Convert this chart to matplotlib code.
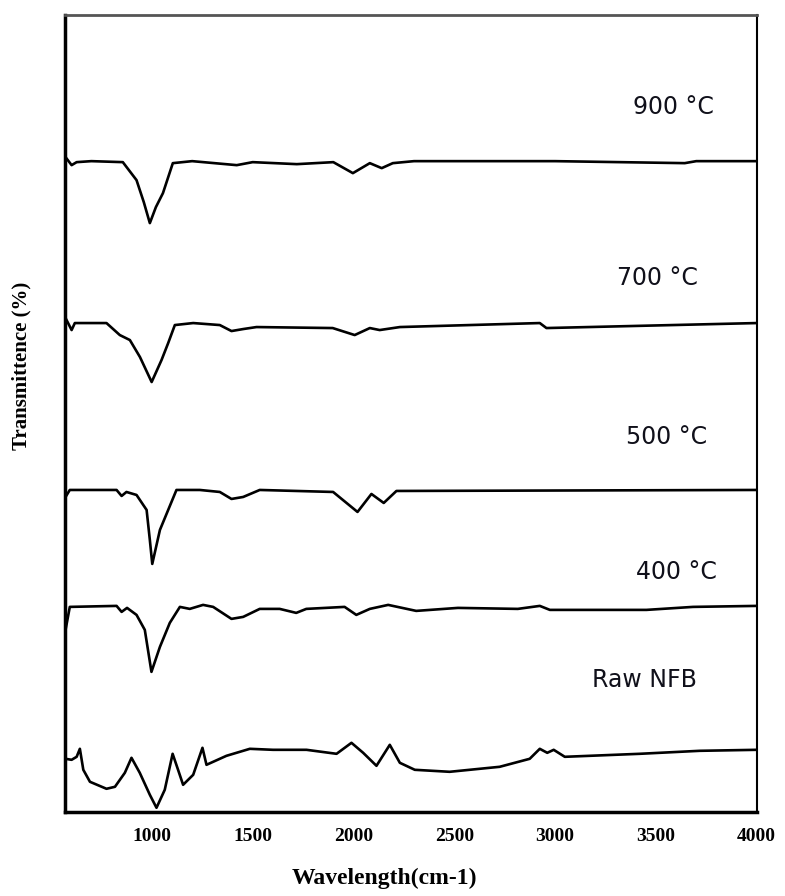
import numpy as np
import matplotlib
matplotlib.use('Agg')
from matplotlib import pyplot as plt

# wavenumber (cm-1) / transmittance (arbitrary, stacked)
w_900 = [572, 602, 627, 700, 856, 924, 960, 990, 1020, 1055, 1104, 1200, 1421, 1500, 1719, 1900, 1997, 2081, 2140, 2195, 2300, 3000, 3643, 3700, 4000]
t_900 = [655, 647, 650, 651, 650, 632, 610, 589, 605, 619, 649, 651, 647, 650, 648, 650, 639, 649, 644, 649, 651, 651, 649, 651, 651]

w_700 = [572, 602, 618, 775, 841, 891, 941, 999, 1048, 1081, 1114, 1205, 1337, 1395, 1453, 1519, 1897, 2006, 2081, 2130, 2230, 2924, 2957, 4000]
t_700 = [494, 482, 489, 489, 477, 472, 455, 430, 452, 469, 487, 489, 487, 481, 483, 485, 484, 477, 484, 482, 485, 489, 484, 489]

w_500 = [572, 593, 825, 850, 874, 924, 974, 990, 1002, 1040, 1081, 1122, 1238, 1337, 1395, 1453, 1535, 1899, 2020, 2089, 2150, 2213, 4000]
t_500 = [315, 322, 322, 316, 320, 317, 302, 272, 248, 282, 302, 322, 322, 320, 313, 315, 322, 320, 300, 318, 309, 321, 322]

w_400 = [572, 593, 825, 850, 877, 924, 965, 998, 1040, 1089, 1139, 1188, 1254, 1304, 1395, 1453, 1535, 1634, 1716, 1766, 1956, 2014, 2081, 2172, 2311, 2518, 2815, 2924, 2974, 3453, 3684, 4000]
t_400 = [182, 205, 206, 200, 204, 197, 182, 140, 165, 189, 205, 203, 207, 205, 193, 195, 203, 203, 199, 203, 205, 197, 203, 207, 201, 204, 203, 206, 202, 202, 205, 206]

w_raw = [572, 602, 627, 643, 660, 693, 775, 817, 866, 899, 940, 990, 1023, 1064, 1103, 1130, 1155, 1205, 1251, 1271, 1370, 1486, 1601, 1767, 1916, 1990, 2048, 2114, 2180, 2230, 2304, 2477, 2725, 2874, 2924, 2961, 2993, 3048, 3419, 3717, 4000]
t_raw = [53, 52, 55, 63, 42, 30, 23, 25, 39, 54, 39, 17, 4, 22, 58, 42, 27, 37, 64, 47, 56, 63, 62, 62, 58, 69, 59, 46, 67, 49, 42, 40, 45, 53, 63, 59, 62, 55, 58, 61, 62]

etiquetas = ['900 °C', '700 °C', '500 °C', '400 °C', 'Raw NFB']
pos_x = [3588, 3509, 3553, 3603, 3444]
pos_y = [705, 534, 375, 240, 132]

fig = plt.figure(figsize=(7.85, 8.96), dpi=100)
ax = fig.add_axes([0.083, 0.094, 0.881, 0.889])

for w, t in [(w_900, t_900), (w_700, t_700), (w_500, t_500), (w_400, t_400), (w_raw, t_raw)]:
    ax.plot(w, t, color='black', lw=1.9, solid_joinstyle='round')

for i in range(len(etiquetas)):
    ax.text(pos_x[i], pos_y[i], etiquetas[i], ha='center', va='center',
            fontsize=17, family='DejaVu Sans', color='#10101a')

ax.set_xlim(570, 4000)
ax.set_ylim(0, 797)
ax.set_xticks([1000, 1500, 2000, 2500, 3000, 3500, 4000])
ax.set_yticks([])
ax.tick_params(axis='x', length=0, pad=12)
for lab in ax.get_xticklabels():
    lab.set_family('Liberation Serif')
    lab.set_fontweight('bold')
    lab.set_fontsize(14)

ax.spines['left'].set_linewidth(2.5)
ax.spines['bottom'].set_linewidth(2.5)
ax.spines['top'].set_linewidth(2)
ax.spines['top'].set_color('#555555')
ax.spines['right'].set_linewidth(1.5)

ax.set_xlabel('Wavelength(cm-1)', family='Liberation Serif', fontweight='bold',
              fontsize=17)
ax.xaxis.set_label_coords(0.461, -0.070)
ax.set_ylabel('Transmittence (%)', family='Liberation Serif', fontweight='bold',
              fontsize=15)
ax.yaxis.set_label_coords(-0.049, 0.56)

plt.savefig('out.png', dpi=100)
